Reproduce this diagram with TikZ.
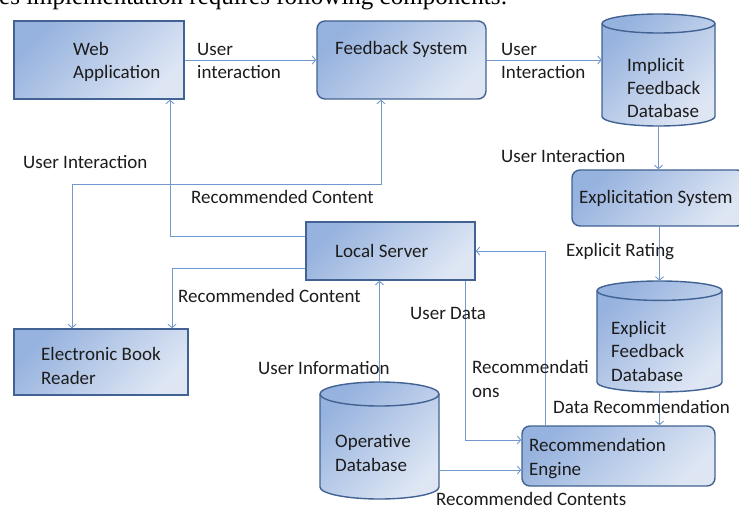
\documentclass[tikz,border=0pt]{standalone}
\usepackage{fontspec}
\setmainfont{Carlito}
\newfontfamily\pageserif{Liberation Serif}
\usetikzlibrary{arrows.meta}

\definecolor{boxline}{RGB}{65,98,146}
\definecolor{boxdark}{RGB}{150,178,222}
\definecolor{boxlight}{RGB}{222,230,244}
\definecolor{flowline}{RGB}{114,152,205}
\definecolor{ink}{RGB}{28,28,28}

% database drum: name, left, top, right, bottom, y radius of the lid
\newcommand{\dbcyl}[6]{%
  \node[dbnode,minimum width={#4-(#2)},minimum height={#3-(#5)}] (#1) at ({(#2+#4)/2},{(#3+#5)/2}) {};
  \path[dbfill] (#2,{#3-#6}) -- (#2,{#5+#6})
    arc[start angle=180,end angle=360,x radius={(#4-(#2))/2},y radius=#6]
    -- (#4,{#3-#6})
    arc[start angle=0,end angle=180,x radius={(#4-(#2))/2},y radius=#6] -- cycle;
  \draw[boxline,line width=1.4pt] (#2,{#3-#6})
    arc[start angle=180,end angle=360,x radius={(#4-(#2))/2},y radius=#6];
}

\begin{document}
\begin{tikzpicture}[x=1pt,y=1pt,>={Straight Barb[length=3.5pt,width=8pt]},
  box/.style={draw=boxline,line width=1.4pt,top color=boxdark,bottom color=boxlight,shading angle=45,inner sep=0pt},
  rbox/.style={box,rounded corners=8pt},
  dbnode/.style={inner sep=0pt},
  dbfill/.style={draw=boxline,line width=1.4pt,top color=boxdark,bottom color=boxlight,shading angle=45},
  flow/.style={draw=flowline,line width=0.9pt,->},
  txt/.style={anchor=base west,inner sep=0pt,align=left,text=ink,font=\fontsize{19}{23.5}\selectfont}]
\useasboundingbox (0,0) rectangle (739,-508);

\node[anchor=base west,inner sep=0pt,font=\pageserif\fontsize{25}{28}\selectfont] (pagetext) at (-1,-4.8) {es implementation requires following components:};

\node[box,minimum width=170,minimum height=78] (web) at (99,-60) {};
\node[rbox,minimum width=169,minimum height=78] (feedback) at (401.5,-60) {};
\dbcyl{impl}{602}{-14}{715}{-126}{9.5}
\node[rbox,minimum width=173,minimum height=56] (explic) at (658.5,-198) {};
\node[box,minimum width=169,minimum height=58] (local) at (390.5,-251) {};
\node[box,minimum width=174,minimum height=66] (ebook) at (101,-362) {};
\dbcyl{exdb}{597}{-281}{722}{-392}{9.7}
\dbcyl{opdb}{320}{-382}{439}{-499}{12}
\node[rbox,minimum width=193,minimum height=60] (rec) at (618.5,-456) {};

% multi-line texts sit on the baseline of their last line
\node[txt] (webtxt) at (73,-79) {Web\\Application};
\node[txt] (feedbacktxt) at (335,-55) {Feedback System};
\node[txt] (impltxt) at (627,-118) {Implicit\\Feedback\\Database};
\node[txt] (explictxt) at (579,-204) {Explicitation System};
\node[txt] (localtxt) at (335,-257) {Local Server};
\node[txt] (ebooktxt) at (41,-384) {Electronic Book\\Reader};
\node[txt] (exdbtxt) at (611,-381) {Explicit\\Feedback\\Database};
\node[txt] (opdbtxt) at (335,-471) {Operative\\Database};
\node[txt] (rectxt) at (529,-475) {Recommendation\\Engine};

\draw[flow] (web.east) -- (feedback.west);
\draw[flow] (feedback.east) -- (feedback.east -| impl.west);
\draw[flow] (impl.south) -- (impl.south |- explic.north);
\draw[flow] (exdb.north |- explic.south) -- (exdb.north);
\draw[flow] (exdb.south) -- (exdb.south |- rec.north);
\draw[flow] ([yshift=15pt]local.west) -| ([xshift=71pt]web.south);
\coordinate (ui) at (72,-184);
\draw[flow,<->] ([xshift=-29pt]ebook.north) -- (ui) -| ([xshift=-20.5pt]feedback.south);
\draw[flow] ([yshift=-17pt]local.west) -| ([xshift=71pt]ebook.north);
\draw[flow] (opdb.north) -- (opdb.north |- local.south);
\draw[flow] ([xshift=74.5pt]local.south) |- ([yshift=16pt]rec.west);
\draw[flow] ([xshift=-73.5pt]rec.north) |- (local.east);
\coordinate (rc) at ([yshift=-14pt]rec.west);
\draw[flow] (rc -| opdb.east) -- (rc);

\node[txt] (l-webfb) at (197,-79) {User\\interaction};
\node[txt] (l-fbimpl) at (501,-79) {User\\Interaction};
\node[txt] (l-implex) at (501,-163) {User Interaction};
\node[txt] (l-rating) at (566,-256) {Explicit Rating};
\node[txt] (l-datarec) at (553,-413) {Data Recommendation};
\node[txt] (l-ui) at (23,-168) {User Interaction};
\node[txt] (l-rcfb) at (191,-204) {Recommended Content};
\node[txt] (l-rcbook) at (178,-302) {Recommended Content};
\node[txt] (l-uinfo) at (258,-374) {User Information};
\node[txt] (l-udata) at (410,-319) {User Data};
\node[txt] (l-recs) at (472,-397) {Recommendati\\ons};
\node[txt] (l-rcs) at (436,-505.5) {Recommended Contents};
\end{tikzpicture}
\end{document}
